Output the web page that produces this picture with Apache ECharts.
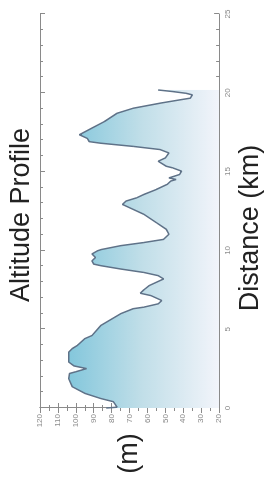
<!DOCTYPE html>
<html>
<head>
<meta charset="utf-8">
<script src="https://cdn.jsdelivr.net/npm/echarts@6/dist/echarts.min.js"></script>
<style>
html, body { margin: 0; padding: 0; background: #fff; overflow: hidden; width: 269px; height: 477px; }
/* the chart is drawn landscape and turned a quarter left, like the picture */
#chart { position: absolute; left: -104px; top: 104px; width: 477px; height: 269px; transform: rotate(-90deg); }
</style>
</head>
<body>
<div id="chart"></div>
<script>
// distance along the route (km) and altitude (m)
var distance = [0, 0.05, 0.4, 0.6, 0.93, 1.35, 1.87, 2.19, 2.3, 2.5, 2.67, 2.92, 3.55, 3.77, 3.98, 4.4, 4.6,
    5.24, 5.98, 6.3, 6.4, 6.61, 6.82, 7.13, 7.28, 7.5, 7.77, 8.19, 8.4, 8.6, 8.82, 9.03, 9.13, 9.34, 9.55,
    9.77, 9.97, 10.05, 10.3, 10.5, 10.7, 11.03, 11.34, 11.76, 12.29, 12.71, 12.92, 13.13, 13.34, 13.55, 13.87,
    14.19, 14.4, 14.5, 14.6, 14.82, 15.03, 15.24, 15.34, 15.66, 15.87, 16.18, 16.4, 16.6, 16.8, 16.9, 17.1,
    17.34, 17.44, 17.76, 18.18, 18.7, 19.02, 19.34, 19.55, 19.66, 19.87, 19.97, 20.08, 20.18];
var altitude = [83, 77, 79, 86, 95, 102, 104, 103.5, 100, 94, 101, 104, 104, 102, 99, 95, 91,
    86, 75, 68, 62, 54, 52, 58, 64, 62, 59, 51, 54, 62, 75, 86, 90, 91, 89,
    91, 88, 86, 75, 62, 51, 48, 49.5, 55, 62, 70, 74, 72, 66, 62, 55,
    49, 47, 44, 48, 42, 41, 46, 49.5, 54, 50, 48, 53, 68, 86, 92.5, 93.5,
    98, 97, 91, 84, 77, 68, 53, 42, 36, 35, 38.5, 46, 54];

var points = distance.map(function (d, i) { return [d, altitude[i]]; });

var axisGray = '#8a8a8a';
var tickStyle = { show: true, inside: true, length: 5, lineStyle: { color: axisGray } };
var minorStyle = { show: true, length: 3, lineStyle: { color: axisGray } };

var chart = echarts.init(document.getElementById('chart'));
chart.setOption({
    animation: false,
    title: {
        text: 'Altitude Profile',
        left: 170,
        top: 3,
        textStyle: { fontFamily: 'Liberation Sans', fontSize: 27, fontWeight: 'normal', color: '#222' }
    },
    grid: { left: 69, right: 14, top: 40, bottom: 47 },
    xAxis: [{
        type: 'value',
        min: 0, max: 25, interval: 5,
        name: 'Distance (km)',
        nameLocation: 'middle',
        nameGap: 14,
        nameTextStyle: { fontFamily: 'Liberation Sans', fontSize: 27, color: '#222', padding: [0, 34, 0, 0] },
        axisLine: { show: true, lineStyle: { color: axisGray } },
        axisTick: tickStyle,
        minorTick: Object.assign({ splitNumber: 5 }, minorStyle),
        axisLabel: { fontSize: 8, color: '#888', margin: 5 },
        splitLine: { show: false }
    }, {
        type: 'value', position: 'top',
        min: 0, max: 25, interval: 5,
        axisLine: { show: true, lineStyle: { color: axisGray } },
        axisTick: tickStyle,
        minorTick: Object.assign({ splitNumber: 5 }, minorStyle),
        axisLabel: { show: false },
        splitLine: { show: false }
    }],
    yAxis: [{
        type: 'value',
        min: 20, max: 120, interval: 10,
        name: '(m)',
        nameLocation: 'middle',
        nameRotate: 0,
        nameGap: 25,
        nameTextStyle: { fontFamily: 'Liberation Sans', fontSize: 27, color: '#222' },
        axisLine: { show: true, lineStyle: { color: axisGray } },
        axisTick: tickStyle,
        minorTick: Object.assign({ splitNumber: 2 }, minorStyle),
        axisLabel: { fontSize: 8, color: '#888', margin: 6 },
        splitLine: { show: false }
    }, {
        type: 'value', position: 'right',
        min: 20, max: 120, interval: 10,
        axisLine: { show: true, lineStyle: { color: axisGray } },
        axisTick: tickStyle,
        minorTick: Object.assign({ splitNumber: 2 }, minorStyle),
        axisLabel: { show: false },
        splitLine: { show: false }
    }],
    series: [{
        type: 'line',
        data: points,
        symbol: 'none',
        lineStyle: { color: '#5f7288', width: 1.5 },
        areaStyle: {
            origin: 'start',
            opacity: 1,
            color: new echarts.graphic.LinearGradient(0, 60, 0, 222, [
                { offset: 0, color: '#7cc4da' },
                { offset: 0.5, color: '#c0dee8' },
                { offset: 1, color: '#f4f5fb' }
            ], true)
        }
    }]
});
</script>
</body>
</html>
